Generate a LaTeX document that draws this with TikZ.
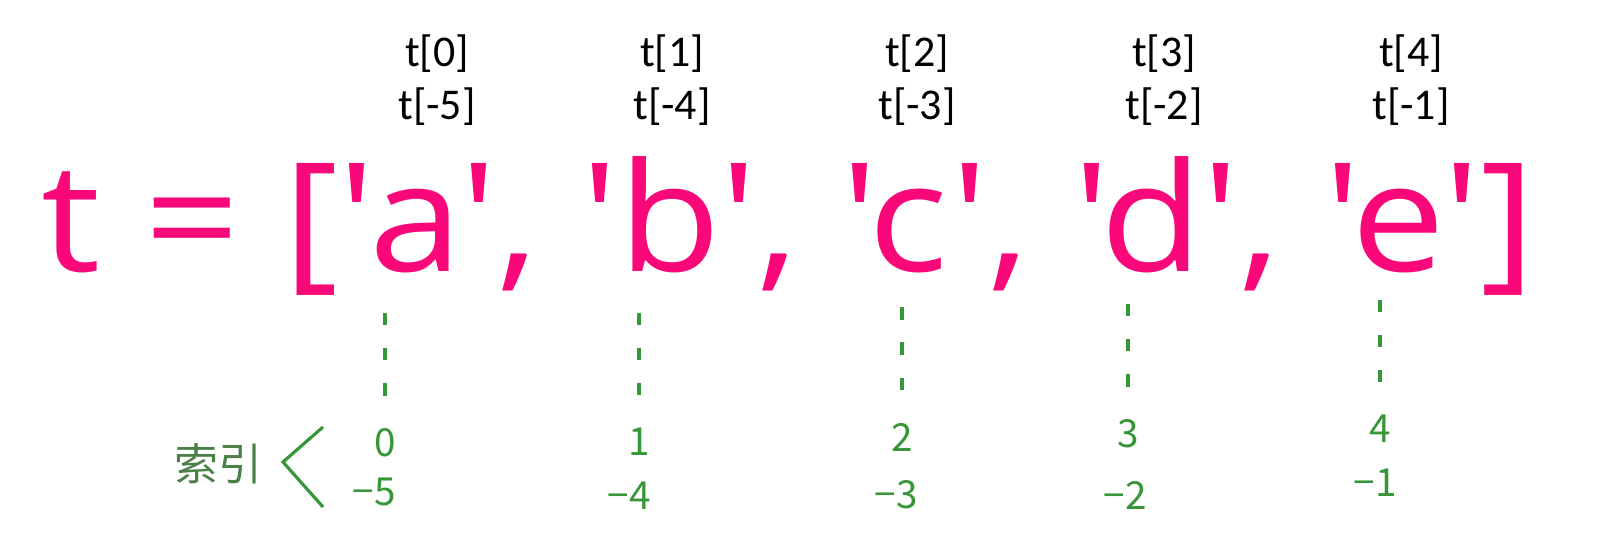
\documentclass[tikz,border=0pt]{standalone}
\usepackage{fontspec}
\setmainfont{Carlito}
\newfontfamily\codefont{Open Sans}
\newfontfamily\cjkfont{Noto Sans CJK SC}
\usetikzlibrary{positioning}
\definecolor{codepink}{RGB}{250,8,122}
\definecolor{idxgreen}{RGB}{55,150,55}
\definecolor{labelgreen}{RGB}{75,128,75}

\begin{document}
\begin{tikzpicture}
    \tikzstyle{access}=[
        align = center,
        inner sep = 0pt,
        font = \fontsize{12.5}{15}\selectfont
    ]
    \tikzstyle{idx}=[
        inner sep = 0pt,
        text = idxgreen,
        font = \cjkfont\fontsize{11}{12}\selectfont
    ]
    \tikzstyle{guide}=[
        idxgreen,
        line width = 0.9pt,
        dash pattern = on 3.5pt off 6.5pt
    ]
    \useasboundingbox (0,0) rectangle (16.11,5.35);

    % the list itself
    \node (code) [anchor=base west, inner sep=0pt, text=codepink] at (0.41,2.63)
      {\resizebox{14.94cm}{1.15cm}{\codefont t = ['a', 'b', 'c', 'd', 'e']}};

    % access expressions above
    \node (t0) [access] at (4.37,4.55) {t[0]\\t[-5]};
    \node (t1) [access] at (6.72,4.55) {t[1]\\t[-4]};
    \node (t2) [access] at (9.17,4.55) {t[2]\\t[-3]};
    \node (t3) [access] at (11.64,4.55) {t[3]\\t[-2]};
    \node (t4) [access] at (14.11,4.55) {t[4]\\t[-1]};

    % indices below
    \node (i0) [idx] at (3.85,0.92) {0};
    \node (n0) [idx] at (3.74,0.43) {−5};
    \node (i1) [idx] at (6.39,0.93) {1};
    \node (n1) [idx] at (6.29,0.39) {−4};
    \node (i2) [idx] at (9.02,0.98) {2};
    \node (n2) [idx] at (8.96,0.40) {−3};
    \node (i3) [idx] at (11.28,1.01) {3};
    \node (n3) [idx] at (11.25,0.40) {−2};
    \node (i4) [idx] at (13.80,1.06) {4};
    \node (n4) [idx] at (13.75,0.52) {−1};

    \node (label) [idx, text=labelgreen, font=\cjkfont\fontsize{12.5}{12.5}\selectfont] at (2.18,0.71) {索引};
    \coordinate (tip) at (2.83,0.73);
    \coordinate (upper) at (3.23,1.08);
    \coordinate (lower) at (3.23,0.28);
    \draw[idxgreen, line width=0.9pt] (upper) -- (tip) -- (lower);

    \draw[guide] ([yshift=1.15cm]i0.north) -- ([yshift=0.32cm]i0.north);
    \draw[guide] ([yshift=1.15cm]i1.north) -- ([yshift=0.32cm]i1.north);
    \draw[guide] ([yshift=1.15cm]i2.north) -- ([yshift=0.32cm]i2.north);
    \draw[guide] ([yshift=1.15cm]i3.north) -- ([yshift=0.32cm]i3.north);
    \draw[guide] ([yshift=1.15cm]i4.north) -- ([yshift=0.32cm]i4.north);
\end{tikzpicture}
\end{document}
